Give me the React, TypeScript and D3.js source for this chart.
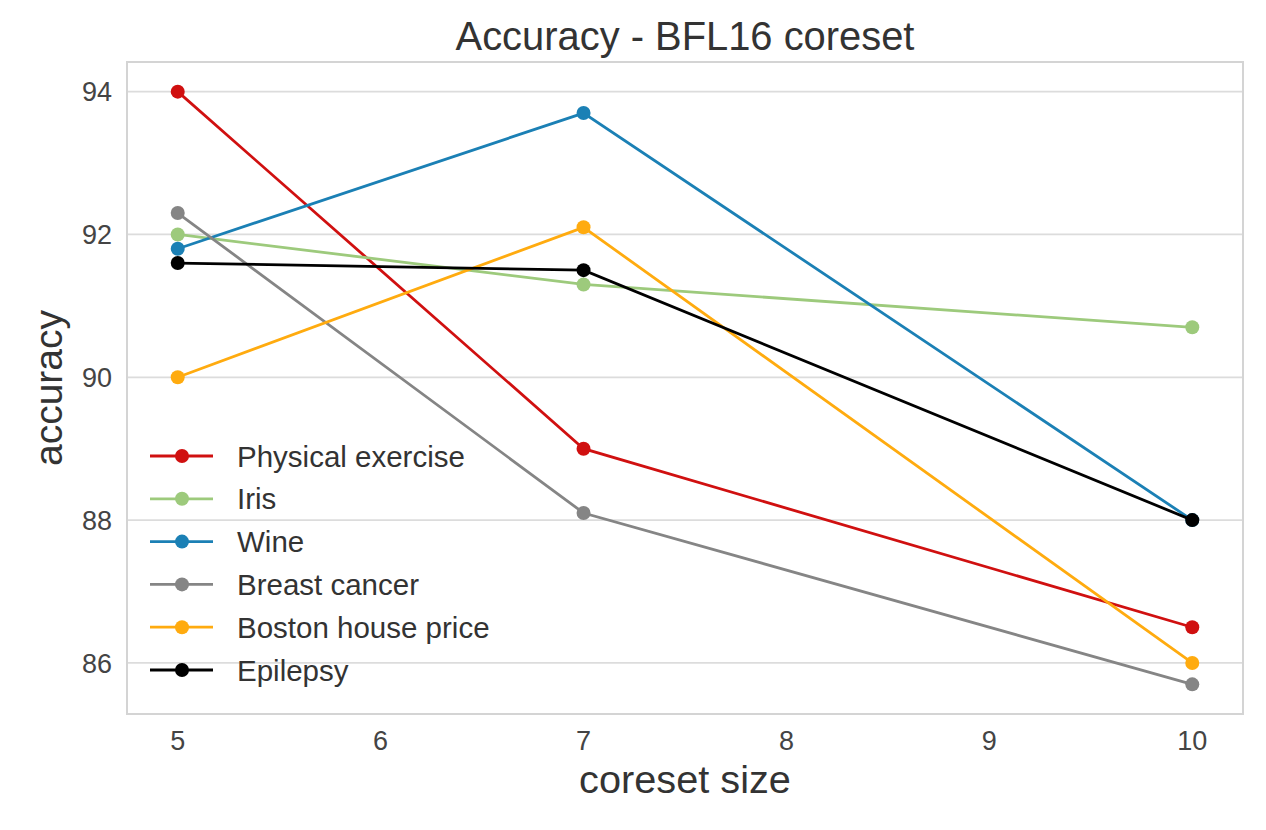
import React from "react";
import * as d3 from "d3";

const coresetSizes = [5, 7, 10];
const seriesNames = ["Physical exercise", "Iris", "Wine", "Breast cancer", "Boston house price", "Epilepsy"];
const physicalExercise = [94.0, 89.0, 86.5];
const iris = [92.0, 91.3, 90.7];
const wine = [91.8, 93.7, 88.0];
const breastCancer = [92.3, 88.1, 85.7];
const bostonHousePrice = [90.0, 92.1, 86.0];
const epilepsy = [91.6, 91.5, 88.0];
const seriesColors = ["#d01010", "#9dca7c", "#1b80b5", "#858585", "#ffab0f", "#000000"];
const xTicks = [5, 6, 7, 8, 9, 10];
const yTicks = [86, 88, 90, 92, 94];

const W = 1266;
const H = 830;
const M = { left: 127, right: 1243, top: 62, bottom: 714 };

export default function App() {
  const allSeries = [physicalExercise, iris, wine, breastCancer, bostonHousePrice, epilepsy];
  const xMin = d3.min(coresetSizes)!;
  const xMax = d3.max(coresetSizes)!;
  const xPad = (xMax - xMin) * 0.05;
  const allVals = allSeries.flat();
  const yMin = d3.min(allVals)!;
  const yMax = d3.max(allVals)!;
  const yPad = (yMax - yMin) * 0.05;
  const x = d3.scaleLinear().domain([xMin - xPad, xMax + xPad]).range([M.left, M.right]);
  const y = d3.scaleLinear().domain([yMin - yPad, yMax + yPad]).range([M.bottom, M.top]);
  const line = d3
    .line<[number, number]>()
    .x((d) => x(d[0]))
    .y((d) => y(d[1]));
  const font = "'Liberation Sans', Arial, sans-serif";
  const legendX = 150;
  const legendY0 = 456;
  const legendStep = 42.8;

  return (
    <svg width={W} height={H} style={{ position: "absolute", left: 0, top: 0 }} fontFamily={font}>
      <rect x={0} y={0} width={W} height={H} fill="#ffffff" />
      {yTicks.map((t) => (
        <line key={"g" + t} x1={M.left} x2={M.right} y1={y(t)} y2={y(t)} stroke="#dcdcdc" strokeWidth={1.8} />
      ))}
      <rect
        x={M.left}
        y={M.top}
        width={M.right - M.left}
        height={M.bottom - M.top}
        fill="none"
        stroke="#d4d4d4"
        strokeWidth={2}
      />
      {yTicks.map((t) => (
        <text
          key={"yt" + t}
          x={112}
          y={y(t)}
          dy="0.36em"
          textAnchor="end"
          fontSize={27}
          fill="#444444"
        >
          {t}
        </text>
      ))}
      {xTicks.map((t) => (
        <text key={"xt" + t} x={x(t)} y={750} textAnchor="middle" fontSize={27} fill="#444444">
          {t}
        </text>
      ))}
      {allSeries.map((vals, i) => {
        const pts = coresetSizes.map((c, j) => [c, vals[j]] as [number, number]);
        return (
          <g key={"s" + i}>
            <path d={line(pts) || ""} fill="none" stroke={seriesColors[i]} strokeWidth={2.8} />
            {pts.map((p, j) => (
              <circle key={j} cx={x(p[0])} cy={y(p[1])} r={7} fill={seriesColors[i]} />
            ))}
          </g>
        );
      })}
      {seriesNames.map((name, i) => {
        const ly = legendY0 + i * legendStep;
        return (
          <g key={"l" + i}>
            <line x1={legendX} x2={legendX + 63} y1={ly} y2={ly} stroke={seriesColors[i]} strokeWidth={2.8} />
            <circle cx={legendX + 32} cy={ly} r={7} fill={seriesColors[i]} />
            <text x={237} y={ly} dy="0.36em" fontSize={29.5} fill="#333333">
              {name}
            </text>
          </g>
        );
      })}
      <text x={(M.left + M.right) / 2} y={50} textAnchor="middle" fontSize={39.9} fill="#333333">
        Accuracy - BFL16 coreset
      </text>
      <text x={(M.left + M.right) / 2} y={793} textAnchor="middle" fontSize={39.7} fill="#333333">
        coreset size
      </text>
      <text
        transform={`translate(62, ${(M.top + M.bottom) / 2}) rotate(-90)`}
        textAnchor="middle"
        fontSize={39}
        fill="#333333"
      >
        accuracy
      </text>
    </svg>
  );
}
